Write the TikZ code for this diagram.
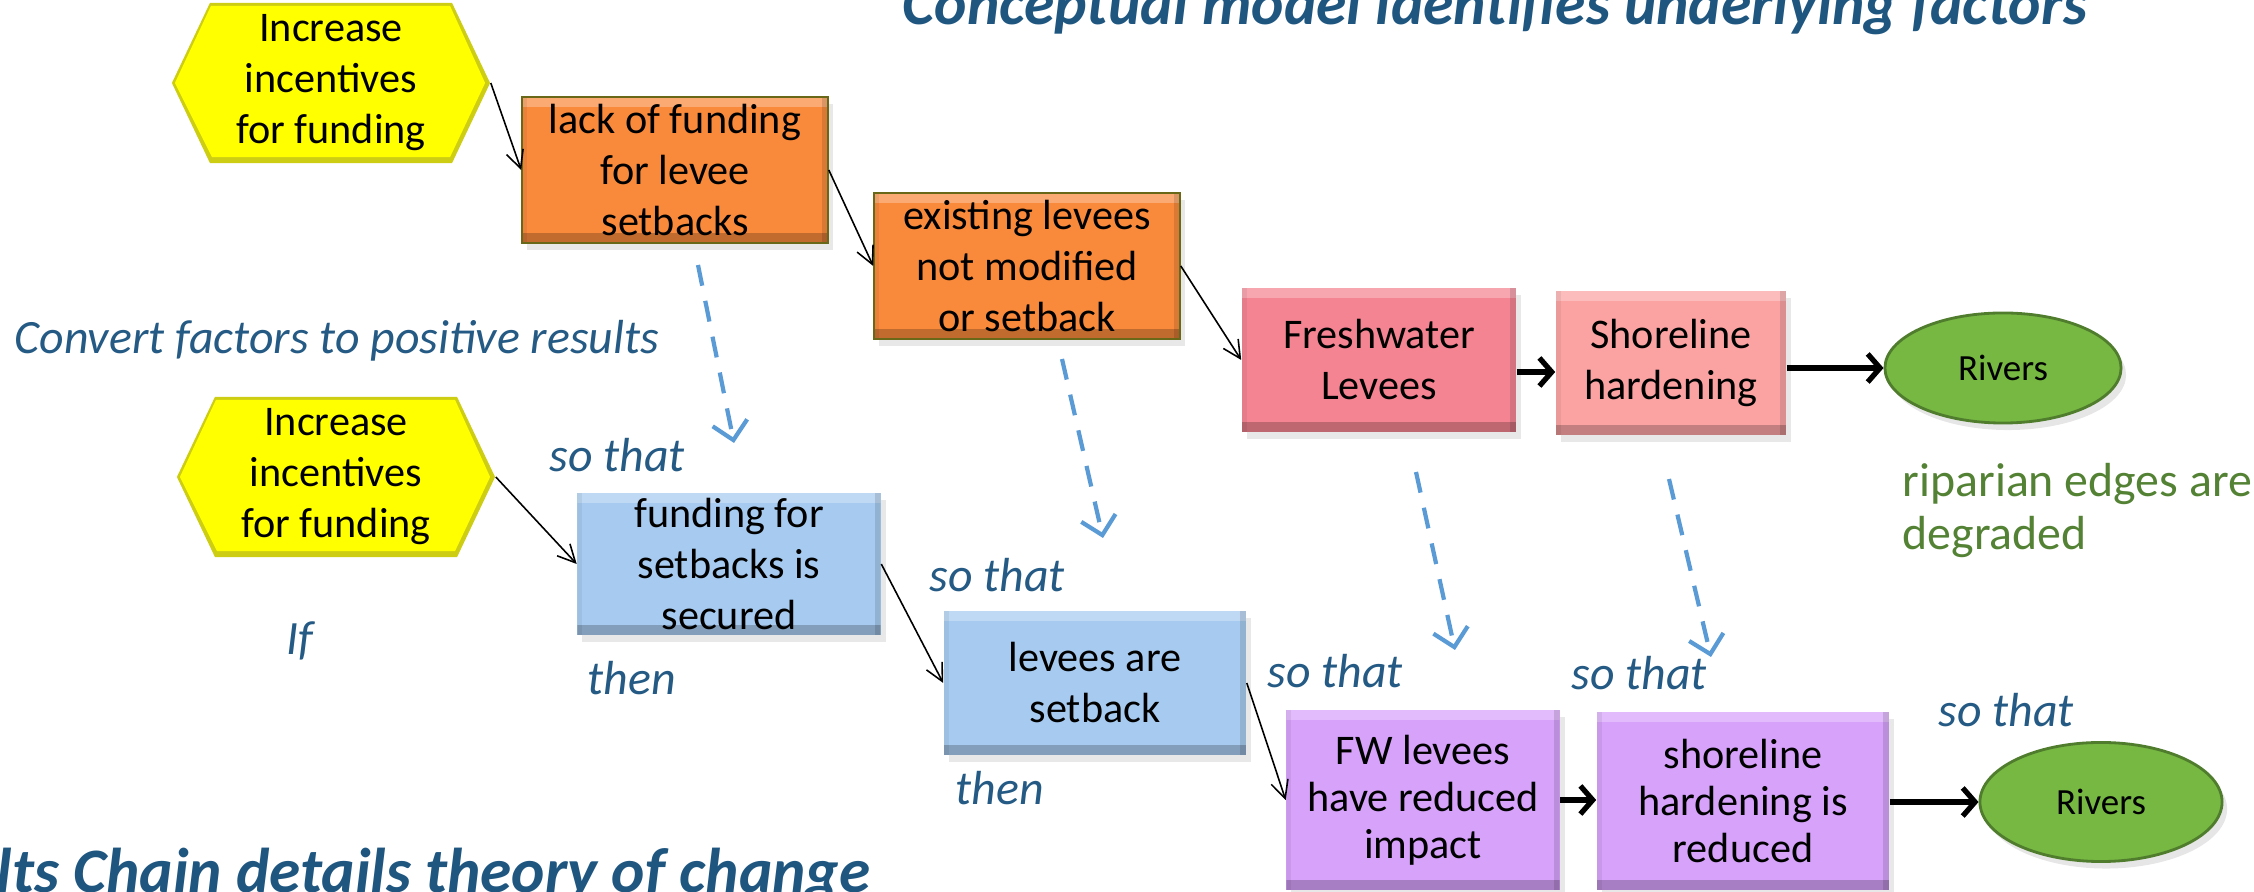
\documentclass[tikz,border=0pt]{standalone}
\usepackage{fontspec}
\setmainfont{Carlito}
\usetikzlibrary{arrows.meta,shapes.geometric,shadows}
\definecolor{hexyellow}{RGB}{255,255,0}
\definecolor{hexedge}{RGB}{205,205,20}
\definecolor{orangebox}{RGB}{249,138,60}
\definecolor{pinkbox}{RGB}{244,132,146}
\definecolor{salmonbox}{RGB}{251,163,163}
\definecolor{bluebox}{RGB}{167,203,240}
\definecolor{purplebox}{RGB}{214,162,250}
\definecolor{riverfill}{RGB}{118,184,66}
\definecolor{riveredge}{RGB}{80,125,45}
\definecolor{dashblue}{RGB}{91,155,213}
\definecolor{titleblue}{RGB}{31,86,128}
\definecolor{labelblue}{RGB}{36,90,132}
\definecolor{ripgreen}{RGB}{84,130,53}
\begin{document}
\begin{tikzpicture}[x=0.01cm,y=-0.01cm,
  nodetext/.style={font=\fontsize{12pt}{14.5pt}\selectfont, align=center, text=black},
  bevel/.style={path picture={
    \fill[white,opacity=.28] (path picture bounding box.north west) rectangle ([yshift=-0.1cm]path picture bounding box.north east);
    \fill[black,opacity=.22] (path picture bounding box.south west) rectangle ([yshift=0.1cm]path picture bounding box.south east);
    \fill[black,opacity=.12] (path picture bounding box.north east) rectangle ([xshift=-0.06cm]path picture bounding box.south east);
    \fill[black,opacity=.06] (path picture bounding box.north west) rectangle ([xshift=0.05cm]path picture bounding box.south west);
  }},
  rbox/.style={nodetext, rectangle, inner sep=0pt, bevel,
    drop shadow={shadow xshift=0.05cm, shadow yshift=-0.07cm, opacity=.18}},
  orangestyle/.style={rbox, fill=orangebox, draw=orangebox!70!green!60!black, line width=0.4pt},
  pinkstyle/.style={rbox, fill=pinkbox},
  salmonstyle/.style={rbox, fill=salmonbox},
  bluestyle/.style={rbox, fill=bluebox},
  purplestyle/.style={rbox, fill=purplebox, font=\fontsize{12pt}{13.3pt}\selectfont},
  hexbox/.style={nodetext, inner sep=0pt, minimum width=3.18cm, minimum height=1.6cm,
    path picture={
      \fill[hexedge] (path picture bounding box.west) -- ([xshift=0.38cm]path picture bounding box.north west) -- ([xshift=-0.38cm]path picture bounding box.north east) -- (path picture bounding box.east) -- ([xshift=-0.38cm]path picture bounding box.south east) -- ([xshift=0.38cm]path picture bounding box.south west) -- cycle;
      \fill[hexyellow] ([xshift=0.03cm]path picture bounding box.west) -- ([xshift=0.39cm,yshift=-0.03cm]path picture bounding box.north west) -- ([xshift=-0.40cm,yshift=-0.03cm]path picture bounding box.north east) -- ([xshift=-0.05cm]path picture bounding box.east) -- ([xshift=-0.40cm,yshift=0.06cm]path picture bounding box.south east) -- ([xshift=0.40cm,yshift=0.06cm]path picture bounding box.south west) -- cycle;
    }},
  river/.style={ellipse, inner sep=0pt, fill=riverfill, draw=riveredge, line width=0.8pt,
    font=\fontsize{10.5pt}{12pt}\selectfont,
    drop shadow={shadow xshift=0.05cm, shadow yshift=-0.07cm, opacity=.2}},
  thinarrow/.style={draw=black, line width=0.45pt, -{Straight Barb[length=5pt,width=5pt]}},
  thickarrow/.style={draw=black, line width=1.5pt, -{Straight Barb[length=3.5pt,width=8pt]}},
  dasharrow/.style={draw=dashblue, line width=1.2pt, dash pattern=on 6pt off 4.4pt,
    -{Straight Barb[length=5pt,width=10pt]}},
  lab/.style={font=\fontsize{13.6pt}{16pt}\selectfont\itshape, text=labelblue, anchor=base west, inner sep=0pt},
  riptext/.style={font=\fontsize{13.6pt}{16pt}\selectfont, text=ripgreen, anchor=base west, inner sep=0pt},
  titlestyle/.style={font=\fontsize{17.5pt}{20pt}\selectfont\bfseries\itshape, text=titleblue, anchor=base west, inner sep=0pt}
]
\useasboundingbox (0,0) rectangle (2254,892);
\clip (0,0) rectangle (2254,892);

% titles
\node[titlestyle] (t1) at (902,25) {Conceptual model identifies underlying factors};
\node[titlestyle, font=\fontsize{18pt}{20pt}\selectfont\bfseries\itshape] (t2) at (-4,893) {lts Chain details theory of change};

% top chain
\node[hexbox] (y1) at (331,83) {Increase\\incentives\\for funding};
\node[orangestyle, minimum width=3.06cm, minimum height=1.46cm] (o1) at (675,170) {lack of funding\\for levee\\setbacks};
\node[orangestyle, minimum width=3.06cm, minimum height=1.46cm] (o2) at (1027,266) {existing levees\\not modified\\or setback};
\node[pinkstyle, minimum width=2.74cm, minimum height=1.44cm] (fw) at (1379,360) {Freshwater\\Levees};
\node[salmonstyle, minimum width=2.30cm, minimum height=1.43cm] (sh) at (1671,363) {Shoreline\\hardening};
\node[river, minimum width=2.36cm, minimum height=1.10cm] (r1) at (2003,368) {Rivers};

% bottom chain
\node[hexbox] (y2) at (336,477) {Increase\\incentives\\for funding};
\node[bluestyle, minimum width=3.03cm, minimum height=1.42cm] (b1) at (729,564) {funding for\\setbacks is\\secured};
\node[bluestyle, minimum width=3.02cm, minimum height=1.44cm] (b2) at (1095,683) {levees are\\setback};
\node[purplestyle, minimum width=2.73cm, minimum height=1.80cm] (p1) at (1423,800) {FW levees\\have reduced\\impact};
\node[purplestyle, minimum width=2.92cm, minimum height=1.78cm] (p2) at (1743,801) {shoreline\\hardening is\\reduced};
\node[river, minimum width=2.42cm, minimum height=1.19cm] (r2) at (2101,802) {Rivers};

% connectors top
\draw[thinarrow] (y1.east) -- (o1.west);
\draw[thinarrow] (o1.east) -- (o2.west);
\draw[thinarrow] (o2.east) -- (fw.west);
\draw[thickarrow] ([yshift=-0.12cm]fw.east) -- ([yshift=-0.12cm]fw.east -| sh.west);
\draw[thickarrow] (sh.east |- r1.west) -- (r1.west);

% connectors bottom
\draw[thinarrow] (y2.east) -- (b1.west);
\draw[thinarrow] (b1.east) -- (b2.west);
\draw[thinarrow] (b2.east) -- (p1.west);
\draw[thickarrow] (p1.east) -- (p1.east -| p2.west);
\draw[thickarrow] (p2.east |- r2.west) -- (r2.west);

% dashed conversion arrows
\coordinate (d1s) at (698,265); \coordinate (d1e) at (734,443);
\coordinate (d2s) at (1062,359); \coordinate (d2e) at (1103,538);
\coordinate (d3s) at (1416,472); \coordinate (d3e) at (1455,650);
\coordinate (d4s) at (1669,479); \coordinate (d4e) at (1711,657);
\draw[dasharrow] (d1s) -- (d1e);
\draw[dasharrow] (d2s) -- (d2e);
\draw[dasharrow] (d3s) -- (d3e);
\draw[dasharrow] (d4s) -- (d4e);

% labels
\node[lab] (conv) at (14,354) {Convert factors to positive results};
\node[lab] (st1) at (549,472) {so that};
\node[lab] (st2) at (929,592) {so that};
\node[lab] (st3) at (1267,688) {so that};
\node[lab] (st4) at (1571,690) {so that};
\node[lab] (st5) at (1938,727) {so that};
\node[lab] (th1) at (587,695) {then};
\node[lab] (th2) at (955,805) {then};
\node[lab] (if) at (286,655) {If};
\node[riptext] (rip1) at (1902,497) {riparian edges are};
\node[riptext] (rip2) at (1902,550) {degraded};
\end{tikzpicture}
\end{document}
